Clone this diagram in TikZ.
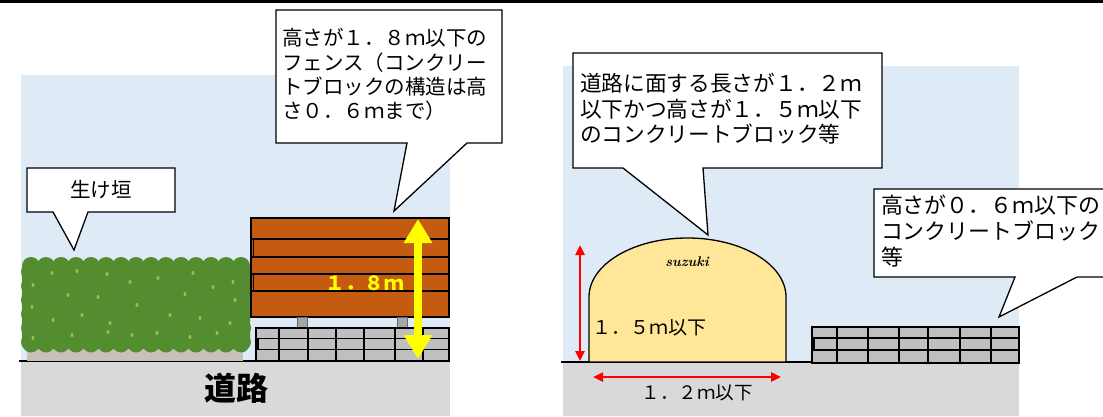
\documentclass[tikz,border=0pt]{standalone}
\usepackage{fontspec}
\newfontfamily\cjk{Noto Sans CJK JP}
\usetikzlibrary{arrows.meta}

\definecolor{cdeebf7}{RGB}{222,235,247}
\definecolor{cd9d9d9}{RGB}{217,217,217}
\definecolor{cc55a11}{RGB}{197,90,17}
\definecolor{cbfbfbf}{RGB}{191,191,191}
\definecolor{ca6a6a6}{RGB}{166,166,166}
\definecolor{cffe699}{RGB}{255,230,153}
\definecolor{c548c30}{RGB}{84,140,48}
\definecolor{c8fc152}{RGB}{143,193,82}
\definecolor{cc9c0ba}{RGB}{201,192,186}
\definecolor{cffff00}{RGB}{255,255,0}
\definecolor{cff0000}{RGB}{255,0,0}

\tikzset{
  callout/.style={draw=black,fill=white,line join=miter,line width=1.3pt},
  blockwall/.style={draw=black,fill=cbfbfbf,line width=1.3pt},
  jointline/.style={draw=black,line width=1.3pt},
  redarrow/.style={draw=cff0000,line width=2.4pt,
    {Triangle[length=10pt,width=9pt]}-{Triangle[length=10pt,width=9pt]}},
}

\begin{document}
\begin{tikzpicture}[y=1pt, x=1pt, yscale=-1, inner sep=0pt, outer sep=0pt]
  \useasboundingbox (0,0) rectangle (1103,416);
  \clip (0,0) rectangle (1103,416);
  \path[fill=white] (0,0) rectangle (1103,416);
  \path[fill=black] (0,0) rectangle (1103,3.3);

  % left: sky, road and ground line
  \path[fill=cdeebf7] (21,75) rectangle (450,361);
  \path[fill=cd9d9d9] (21,361) rectangle (450,416);
  \path[draw=black,line width=1.5pt] (19,361) -- (450,361);
  \path (236,388) node (text1001) {\cjk\bfseries\fontsize{32}{32}\selectfont 道路};

  % hedge
  \path[fill=cc9c0ba] (27,346) rectangle (243,361);
  \path[fill=c548c30,rounded corners=8pt] (22,262) rectangle (250,349);
  \foreach \x in {31,46,...,241}{
    \path[fill=c548c30] (\x,266) circle (9);
    \path[fill=c548c30] (\x,344) circle (8.5);
  }
  \foreach \y in {272,286,...,342}{
    \path[fill=c548c30] (29,\y) circle (8);
    \path[fill=c548c30] (243,\y) circle (8);
  }
  \foreach \x/\y in {33/285,52/273,77/271,107/274,130/282,158/278,193/273,
      213/287,233/282,68/295,98/297,137/305,185/294,32/307,53/320,82/315,
      110/323,170/315,200/318,230/323,33/338,72/335,108/332,132/335,157/333,
      190/337,217/333,235/300}
    \path[fill=c8fc152] (\x,\y) ellipse (1.5 and 2.1);

  % fence on top of the block wall
  \path[draw=black,fill=cc55a11,line width=1.3pt] (251,218) rectangle (449,317);
  \foreach \y in {239,257,274,291}
    \path[jointline] (251,\y) -- (449,\y);
  \path[draw=black,line width=1.8pt] (253.5,239) -- (253.5,257)
    (253.5,274) -- (253.5,291);
  \path[draw=black!60,fill=ca6a6a6,line width=0.6pt] (297,317) rectangle (307,328);
  \path[draw=black!60,fill=ca6a6a6,line width=0.6pt] (397,317) rectangle (407,328);
  \path[blockwall] (256,328) rectangle (449,361);
  \path[jointline] (256,338.5) -- (449,338.5) (256,349.5) -- (449,349.5);
  \foreach \x in {279,308,336,364,395,423}
    \path[jointline] (\x,328) -- (\x,361);
  \path[draw=black,line width=1.8pt] (258,338.5) -- (258,349.5);

  \coordinate (fenceTop) at (418,219);
  \coordinate (fenceFoot) at (418,359);
  \draw[cffff00,line width=8pt,{Triangle[length=24pt,width=27pt]}-{Triangle[length=24pt,width=27pt]}]
    (fenceFoot) -- (fenceTop);
  \path (364.5,283) node (text1002)
    {\cjk\bfseries\fontsize{19.5}{19.5}\selectfont\color{cffff00}１．８ｍ};

  % callouts, left
  \path[callout] (27,168) -- (175,168) -- (175,212) -- (88,212) -- (74,250) --
    (53,212) -- (27,212) -- cycle;
  \path (101,189) node (text1003) {\cjk\fontsize{20.5}{20.5}\selectfont 生け垣};
  \path[callout] (276,10) -- (502,10) -- (502,143) -- (467,143) -- (394,211) --
    (407,143) -- (276,143) -- cycle;
  \path (282,74.75) node[anchor=west,align=left,font={\cjk\fontsize{20.5}{24.3}\selectfont}]
    (text1004) {高さが１．８ｍ以下の\\フェンス（コンクリー\\トブロックの構造は高\\さ０．６ｍまで）};

  % right: sky, road and ground line
  \path[fill=cdeebf7] (563,66) rectangle (1019,362);
  \path[fill=cd9d9d9] (563,362) rectangle (1019,416);
  \path[draw=black,line width=1.5pt] (561,362) -- (1019,362);

  % arched block
  \path[draw=black,fill=cffe699,line width=1.3pt] (589,362) -- (589,297)
    arc(180:360:98.5 and 59) -- (786,362) -- cycle;
  \path (687,262) node (text1005) {\fontsize{14}{14}\selectfont\bfseries\itshape suzuki};

  \coordinate (archTop) at (580,245);
  \coordinate (archFoot) at (580,361);
  \coordinate (archLeft) at (593,377);
  \coordinate (archRight) at (781,377);
  \draw[redarrow] (archFoot) -- (archTop);
  \draw[redarrow] (archLeft) -- (archRight);
  \path (592,328) node[anchor=west] (text1006) {\cjk\fontsize{19}{19}\selectfont １．５ｍ以下};
  \path (697,393) node (text1007) {\cjk\fontsize{18.5}{18.5}\selectfont １．２ｍ以下};

  % low block wall
  \path[blockwall] (812,327) rectangle (1019,363);
  \path[jointline] (812,338) -- (1019,338) (812,350) -- (1019,350);
  \foreach \x in {837,868,899,928,960,991}
    \path[jointline] (\x,327) -- (\x,363);
  \path[draw=black,line width=1.8pt] (814,338) -- (814,350);

  % callouts, right
  \path[callout] (573,53) -- (882,53) -- (882,168) -- (703,168) -- (708,235) --
    (623,168) -- (573,168) -- cycle;
  \path (580,108.7) node[anchor=west,align=left,font={\cjk\fontsize{21.7}{25.5}\selectfont}]
    (text1008) {道路に面する長さが１．２ｍ\\以下かつ高さが１．５ｍ以下\\のコンクリートブロック等};
  \path[callout] (874,189) -- (1110,189) -- (1110,277) -- (1077,277) -- (999,317) --
    (1015,277) -- (874,277) -- cycle;
  \path (881,231.3) node[anchor=west,align=left,font={\cjk\fontsize{21.9}{26}\selectfont}]
    (text1009) {高さが０．６ｍ以下の\\コンクリートブロック\\等};

\end{tikzpicture}
\end{document}
